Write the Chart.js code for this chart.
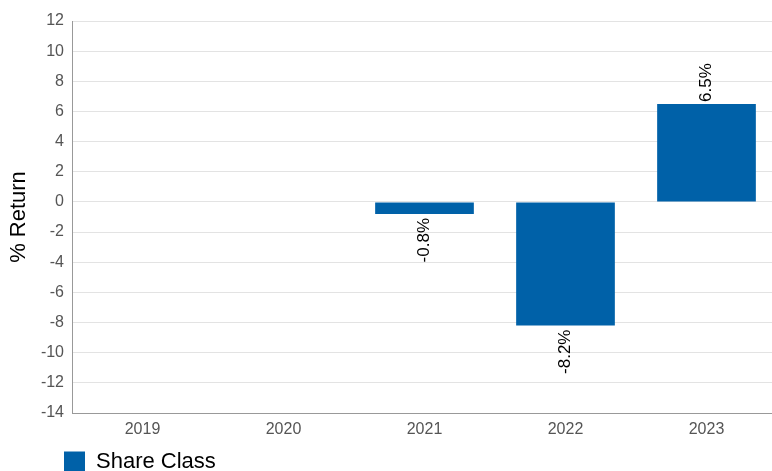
<!DOCTYPE html>
<html>
<head>
<meta charset="utf-8">
<script src="https://cdn.jsdelivr.net/npm/chart.js@4"></script>
<style>
html,body{margin:0;padding:0;background:#fff;overflow:hidden;}
#wrap{width:772px;height:471px;position:relative;overflow:hidden;}
canvas{display:block;}
</style>
</head>
<body>
<div id="wrap"><canvas id="c" width="777" height="471"></canvas></div>
<script>
const categories = ["2019", "2020", "2021", "2022", "2023"];
const shareClass = [null, null, -0.8, -8.2, 6.5];
const seriesName = "Share Class";
const yTitle = "% Return";
const FONT = '"Liberation Sans", Arial, sans-serif';

const barLabels = {
  id: 'barLabels',
  afterDatasetsDraw(chart) {
    const ctx = chart.ctx;
    const meta = chart.getDatasetMeta(0);
    ctx.save();
    ctx.font = '17px ' + FONT;
    ctx.fillStyle = '#000';
    meta.data.forEach((el, i) => {
      const v = shareClass[i];
      if (v === null || v === undefined) return;
      const txt = v.toFixed(1) + '%';
      ctx.save();
      ctx.translate(el.x, el.y);
      ctx.rotate(-Math.PI / 2);
      ctx.textBaseline = 'middle';
      if (v >= 0) {
        ctx.textAlign = 'left';
        ctx.fillText(txt, 2, 0);
      } else {
        ctx.textAlign = 'right';
        ctx.fillText(txt, -4, 0);
      }
      ctx.restore();
    });
    ctx.restore();
  }
};

const moveLegend = {
  id: 'moveLegend',
  afterLayout(chart) {
    const lg = chart.legend;
    if (!lg) return;
    const h = lg.bottom - lg.top;
    lg.left = 64;
    lg.top = 451;
    lg.bottom = 451 + h;
  }
};

new Chart(document.getElementById('c'), {
  type: 'bar',
  data: {
    labels: categories,
    datasets: [{
      label: seriesName,
      data: shareClass,
      backgroundColor: '#0061A8',
      borderWidth: 0,
      barPercentage: 0.7,
      categoryPercentage: 1.0
    }]
  },
  options: {
    responsive: false,
    animation: false,
    devicePixelRatio: 1,
    layout: { padding: { top: 21, right: 0, left: 0, bottom: 0 } },
    plugins: {
      tooltip: { enabled: false },
      legend: {
        position: 'bottom',
        align: 'start',
        labels: {
          boxWidth: 21,
          boxHeight: 21,
          padding: 0,
          color: '#000',
          font: { family: FONT, size: 22 }
        }
      }
    },
    scales: {
      x: {
        grid: { display: false, drawTicks: false },
        border: { display: true, color: '#999999', width: 1 },
        ticks: {
          color: '#555555',
          padding: 7,
          font: { family: FONT, size: 16 }
        },
        afterFit: s => { s.height = 26; }
      },
      y: {
        min: -14,
        max: 12,
        ticks: {
          stepSize: 2,
          color: '#555555',
          padding: 8,
          font: { family: FONT, size: 16 }
        },
        grid: { color: '#e3e3e3', drawTicks: false },
        border: { display: true, color: '#999999', width: 1 },
        title: {
          display: true,
          text: yTitle,
          color: '#000',
          padding: { top: 6, bottom: 0 },
          font: { family: FONT, size: 22 }
        },
        afterFit: s => { s.width = 72; }
      }
    }
  },
  plugins: [barLabels, moveLegend]
});
</script>
</body>
</html>
